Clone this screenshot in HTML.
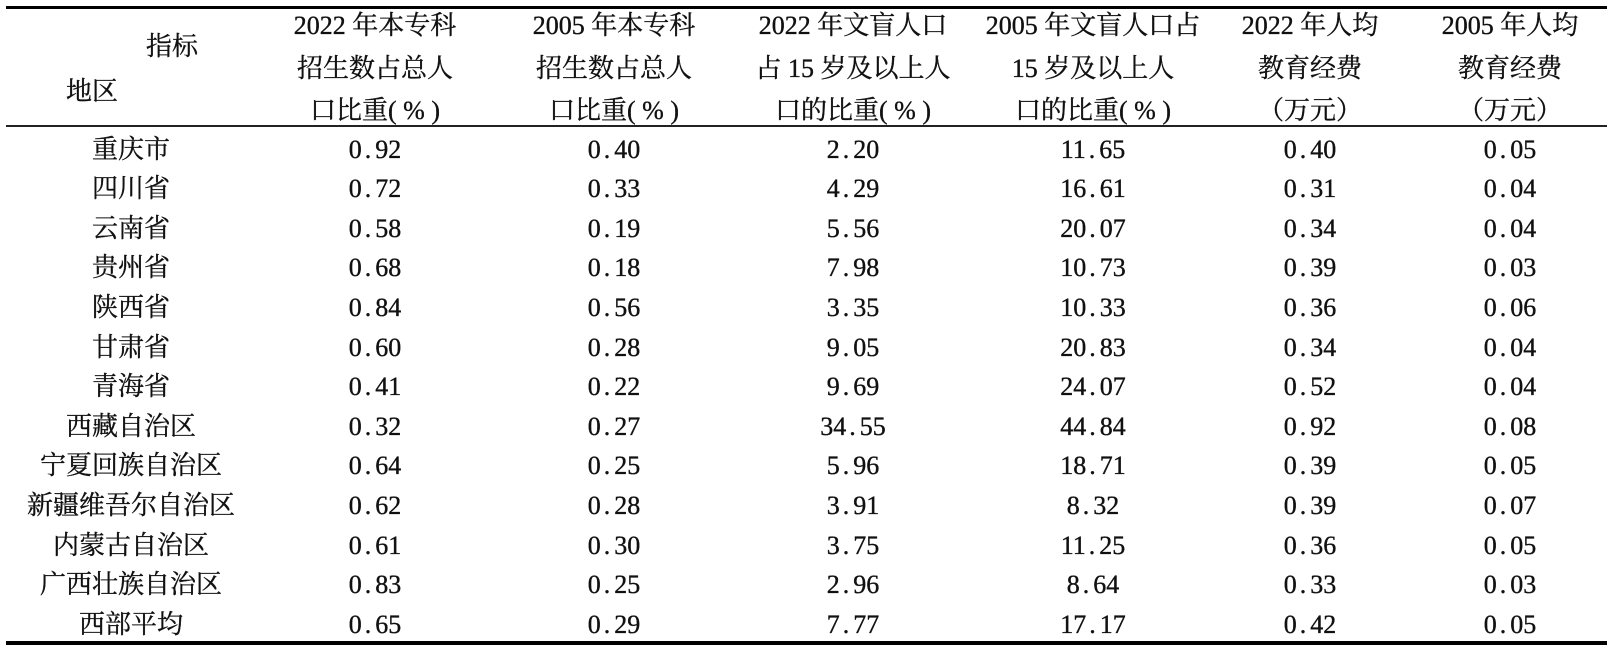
<!DOCTYPE html>
<html>
<head>
<meta charset="utf-8">
<style>
  html, body { margin:0; padding:0; background:#fff; }
  body { width:1611px; height:645px; position:relative; overflow:hidden;
         font-family:"Liberation Serif","Noto Serif CJK SC","Noto Sans CJK SC",serif;
         font-size:26px; color:#111; -webkit-text-stroke:0.35px #111; }
  .rule { position:absolute; background:#000; }
  .row { position:absolute; left:0; width:1611px; height:30px; line-height:30px; }
  .c { position:absolute; top:0; width:260px; margin-left:-130px; text-align:center; white-space:nowrap; }
  .c1{left:131px} .c2{left:375px} .c3{left:614px} .c4{left:853px}
  .c5{left:1093px} .c6{left:1310px} .c7{left:1510px}
  .d { margin:0 4px 0 3px; }
  .lab { position:absolute; line-height:30px; white-space:nowrap; width:120px; margin-left:-60px; text-align:center; }
</style>
</head>
<body>
<div class="rule" style="left:6px;top:6px;width:1601px;height:3px;"></div>
<div class="rule" style="left:6px;top:125px;width:1601px;height:1.5px;background:#222;"></div>
<div class="rule" style="left:6px;top:641px;width:1601px;height:4px;"></div>

<div class="lab" style="left:172px;top:32px;">指标</div>
<div class="lab" style="left:92px;top:77px;">地区</div>

<div class="row" style="top:11px;">
  <div class="c c2">2022 年本专科</div>
  <div class="c c3">2005 年本专科</div>
  <div class="c c4">2022 年文盲人口</div>
  <div class="c c5">2005 年文盲人口占</div>
  <div class="c c6">2022 年人均</div>
  <div class="c c7">2005 年人均</div>
</div>
<div class="row" style="top:54px;">
  <div class="c c2">招生数占总人</div>
  <div class="c c3">招生数占总人</div>
  <div class="c c4">占 15 岁及以上人</div>
  <div class="c c5">15 岁及以上人</div>
  <div class="c c6">教育经费</div>
  <div class="c c7">教育经费</div>
</div>
<div class="row" style="top:96px;">
  <div class="c c2">口比重( % )</div>
  <div class="c c3">口比重( % )</div>
  <div class="c c4">口的比重( % )</div>
  <div class="c c5">口的比重( % )</div>
  <div class="c c6">（万元）</div>
  <div class="c c7">（万元）</div>
</div>

<div class="row" style="top:134.5px;">
  <div class="c c1">重庆市</div><div class="c c2">0<span class="d">.</span>92</div><div class="c c3">0<span class="d">.</span>40</div><div class="c c4">2<span class="d">.</span>20</div><div class="c c5">11<span class="d">.</span>65</div><div class="c c6">0<span class="d">.</span>40</div><div class="c c7">0<span class="d">.</span>05</div>
</div>
<div class="row" style="top:174.1px;">
  <div class="c c1">四川省</div><div class="c c2">0<span class="d">.</span>72</div><div class="c c3">0<span class="d">.</span>33</div><div class="c c4">4<span class="d">.</span>29</div><div class="c c5">16<span class="d">.</span>61</div><div class="c c6">0<span class="d">.</span>31</div><div class="c c7">0<span class="d">.</span>04</div>
</div>
<div class="row" style="top:213.7px;">
  <div class="c c1">云南省</div><div class="c c2">0<span class="d">.</span>58</div><div class="c c3">0<span class="d">.</span>19</div><div class="c c4">5<span class="d">.</span>56</div><div class="c c5">20<span class="d">.</span>07</div><div class="c c6">0<span class="d">.</span>34</div><div class="c c7">0<span class="d">.</span>04</div>
</div>
<div class="row" style="top:253.3px;">
  <div class="c c1">贵州省</div><div class="c c2">0<span class="d">.</span>68</div><div class="c c3">0<span class="d">.</span>18</div><div class="c c4">7<span class="d">.</span>98</div><div class="c c5">10<span class="d">.</span>73</div><div class="c c6">0<span class="d">.</span>39</div><div class="c c7">0<span class="d">.</span>03</div>
</div>
<div class="row" style="top:292.9px;">
  <div class="c c1">陕西省</div><div class="c c2">0<span class="d">.</span>84</div><div class="c c3">0<span class="d">.</span>56</div><div class="c c4">3<span class="d">.</span>35</div><div class="c c5">10<span class="d">.</span>33</div><div class="c c6">0<span class="d">.</span>36</div><div class="c c7">0<span class="d">.</span>06</div>
</div>
<div class="row" style="top:332.5px;">
  <div class="c c1">甘肃省</div><div class="c c2">0<span class="d">.</span>60</div><div class="c c3">0<span class="d">.</span>28</div><div class="c c4">9<span class="d">.</span>05</div><div class="c c5">20<span class="d">.</span>83</div><div class="c c6">0<span class="d">.</span>34</div><div class="c c7">0<span class="d">.</span>04</div>
</div>
<div class="row" style="top:372.1px;">
  <div class="c c1">青海省</div><div class="c c2">0<span class="d">.</span>41</div><div class="c c3">0<span class="d">.</span>22</div><div class="c c4">9<span class="d">.</span>69</div><div class="c c5">24<span class="d">.</span>07</div><div class="c c6">0<span class="d">.</span>52</div><div class="c c7">0<span class="d">.</span>04</div>
</div>
<div class="row" style="top:411.7px;">
  <div class="c c1">西藏自治区</div><div class="c c2">0<span class="d">.</span>32</div><div class="c c3">0<span class="d">.</span>27</div><div class="c c4">34<span class="d">.</span>55</div><div class="c c5">44<span class="d">.</span>84</div><div class="c c6">0<span class="d">.</span>92</div><div class="c c7">0<span class="d">.</span>08</div>
</div>
<div class="row" style="top:451.3px;">
  <div class="c c1">宁夏回族自治区</div><div class="c c2">0<span class="d">.</span>64</div><div class="c c3">0<span class="d">.</span>25</div><div class="c c4">5<span class="d">.</span>96</div><div class="c c5">18<span class="d">.</span>71</div><div class="c c6">0<span class="d">.</span>39</div><div class="c c7">0<span class="d">.</span>05</div>
</div>
<div class="row" style="top:490.9px;">
  <div class="c c1">新疆维吾尔自治区</div><div class="c c2">0<span class="d">.</span>62</div><div class="c c3">0<span class="d">.</span>28</div><div class="c c4">3<span class="d">.</span>91</div><div class="c c5">8<span class="d">.</span>32</div><div class="c c6">0<span class="d">.</span>39</div><div class="c c7">0<span class="d">.</span>07</div>
</div>
<div class="row" style="top:530.5px;">
  <div class="c c1">内蒙古自治区</div><div class="c c2">0<span class="d">.</span>61</div><div class="c c3">0<span class="d">.</span>30</div><div class="c c4">3<span class="d">.</span>75</div><div class="c c5">11<span class="d">.</span>25</div><div class="c c6">0<span class="d">.</span>36</div><div class="c c7">0<span class="d">.</span>05</div>
</div>
<div class="row" style="top:570.1px;">
  <div class="c c1">广西壮族自治区</div><div class="c c2">0<span class="d">.</span>83</div><div class="c c3">0<span class="d">.</span>25</div><div class="c c4">2<span class="d">.</span>96</div><div class="c c5">8<span class="d">.</span>64</div><div class="c c6">0<span class="d">.</span>33</div><div class="c c7">0<span class="d">.</span>03</div>
</div>
<div class="row" style="top:609.7px;">
  <div class="c c1">西部平均</div><div class="c c2">0<span class="d">.</span>65</div><div class="c c3">0<span class="d">.</span>29</div><div class="c c4">7<span class="d">.</span>77</div><div class="c c5">17<span class="d">.</span>17</div><div class="c c6">0<span class="d">.</span>42</div><div class="c c7">0<span class="d">.</span>05</div>
</div>
</body>
</html>
